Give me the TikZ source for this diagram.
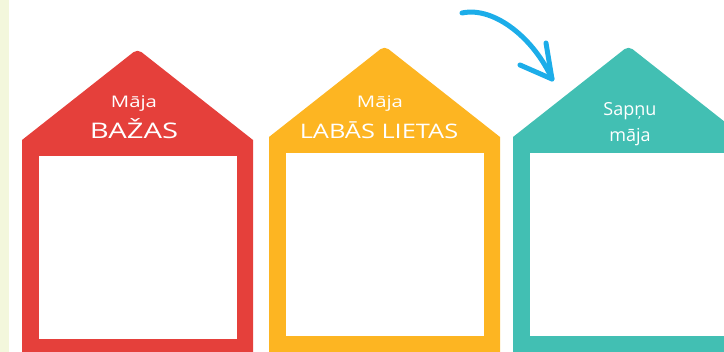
\documentclass[tikz,border=0pt]{standalone}
\usepackage{fontspec}
\setmainfont{Open Sans}
\newfontfamily\widefont[FakeStretch=1.27]{Open Sans}
\newfontfamily\widerfont[FakeStretch=1.36]{Open Sans}

\definecolor{bazred}{HTML}{E5403B}
\definecolor{labyellow}{HTML}{FDB522}
\definecolor{sapteal}{HTML}{42BFB3}
\definecolor{arrowblue}{HTML}{1CADE9}
\definecolor{stripgreen}{HTML}{F3F7DC}

\tikzset{
  housetext/.style={text=white, inner sep=0pt, anchor=base},
  pointer/.style={arrowblue, line width=5pt, line cap=round, line join=round}
}

\begin{document}
\begin{tikzpicture}[x=1pt, y=-1pt]
  \clip (0,0) rectangle (724,352);

  % Left margin strip
  \fill[stripgreen] (0,0) rectangle (9,352);

  % Houses: left edge / eave height / colour
  \foreach \x/\y/\col in {22/140/bazred, 269/137/labyellow, 513/137/sapteal} {
    \fill[\col] (\x,360) -- (\x,\y) [rounded corners=5pt] -- (\x+115.5,\y-91)
      [sharp corners] -- (\x+231,\y) -- (\x+231,360) -- cycle;
    \fill[white] (\x+16.5,\y+16.5) rectangle (\x+215,\y+199.5);
  }

  % Roof labels
  \node[housetext] (majared) at (134,108) {\fontsize{16}{19}\selectfont\widefont Māja};
  \node[housetext] (bazas) at (134,139) {\fontsize{21.5}{25}\selectfont\widerfont BAŽAS};
  \node[housetext] (majayellow) at (380,108) {\fontsize{16}{19}\selectfont\widefont Māja};
  \node[housetext] (labas) at (379,139) {\fontsize{20}{24}\selectfont\widefont LABĀS LIETAS};
  \node[housetext] (sapnu) at (630,115.5) {\fontsize{18}{22}\selectfont Sapņu};
  \node[housetext] (majateal) at (630,141.5) {\fontsize{18}{22}\selectfont māja};

  % Hand-drawn arrow towards the dream house
  \coordinate (arrowstart) at (462,13);
  \coordinate (arrowtip) at (552,79);
  \coordinate (barbup) at (546,43);
  \coordinate (barbleft) at (520,65);
  \draw[pointer] (arrowstart) .. controls (495,6) and (535,40) .. (arrowtip);
  \draw[pointer] (barbup) -- (arrowtip) -- (barbleft);
\end{tikzpicture}
\end{document}
